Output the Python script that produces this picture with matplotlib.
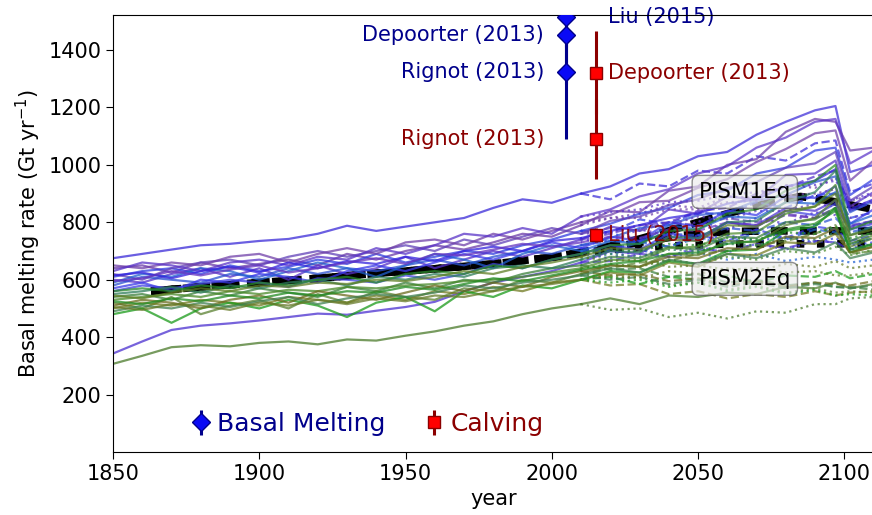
import matplotlib
matplotlib.use("Agg")
import matplotlib.pyplot as plt
from matplotlib.legend_handler import HandlerErrorbar

# ---------------------------------------------------------------------------
# Ensemble members: historical runs (1850-2010) and scenario branches (2010-2110)
# ---------------------------------------------------------------------------
hist_years = [1850, 1860, 1870, 1880, 1890, 1900, 1910, 1920, 1930, 1940,
              1950, 1960, 1970, 1980, 1990, 2000, 2010]
fut_years = [2010, 2020, 2030, 2040, 2050, 2060, 2070, 2080, 2090, 2097, 2102, 2110]

# PISM1Eq-forced members (blue / purple)
pism1_hist = [
    [675, 690, 705, 720, 725, 735, 742, 760, 788, 770, 785, 800, 815, 850, 880, 868, 900],
    [343, 385, 425, 440, 448, 458, 470, 482, 478, 492, 505, 523, 560, 590, 610, 630, 660],
    [640, 650, 625, 660, 640, 655, 670, 650, 690, 670, 700, 720, 705, 730, 760, 750, 790],
    [610, 630, 640, 620, 650, 630, 645, 670, 655, 690, 660, 680, 700, 690, 720, 740, 770],
    [600, 590, 620, 640, 610, 640, 600, 650, 620, 640, 680, 640, 670, 700, 680, 710, 740],
    [580, 610, 600, 590, 620, 610, 640, 620, 640, 630, 650, 670, 650, 680, 700, 690, 720],
    [620, 600, 640, 660, 670, 650, 680, 700, 680, 700, 720, 700, 740, 720, 750, 780, 760],
    [570, 590, 560, 600, 590, 620, 610, 590, 630, 650, 630, 660, 690, 670, 700, 730, 710],
    [650, 640, 660, 650, 680, 690, 660, 690, 710, 690, 730, 740, 720, 760, 740, 770, 800],
    [590, 620, 610, 640, 630, 600, 630, 660, 640, 610, 650, 690, 670, 640, 690, 720, 700],
    [630, 660, 650, 630, 660, 670, 650, 680, 670, 710, 690, 720, 760, 750, 780, 760, 820],
    [560, 580, 570, 585, 600, 590, 575, 605, 600, 590, 615, 600, 620, 655, 640, 670, 690],
    [615, 625, 605, 630, 645, 625, 660, 640, 665, 655, 680, 665, 700, 715, 700, 735, 745],
    [595, 605, 630, 615, 635, 650, 625, 640, 660, 675, 655, 690, 685, 705, 725, 715, 730],
]
pism1_colors = ["#3a2ad8", "#4a2fd0", "#6a3aa8", "#2f3ce0", "#5530c8", "#2a50d0",
                "#6040b8", "#3838e8", "#7040a8", "#2060d0", "#5a34c8", "#4040e0",
                "#3322dd", "#6535c0"]

# scenario branches: (member index, linestyle, values)
pism1_future = [
    (0, "-",  [900, 925, 970, 985, 1030, 1045, 1105, 1150, 1190, 1205, 975, 1000]),
    (0, "--", [900, 880, 935, 925, 980, 970, 1030, 1015, 1075, 1085, 905, 935]),
    (2, "-",  [790, 840, 835, 910, 925, 1000, 1020, 1115, 1160, 1150, 1050, 1060]),
    (2, ":",  [790, 815, 830, 860, 850, 890, 885, 930, 920, 955, 875, 895]),
    (3, "-",  [770, 795, 830, 850, 895, 910, 970, 990, 1050, 1060, 895, 950]),
    (3, "--", [770, 765, 810, 795, 835, 825, 870, 850, 895, 900, 815, 835]),
    (3, ":",  [770, 760, 745, 760, 740, 755, 735, 750, 730, 745, 720, 730]),
    (4, "-",  [740, 785, 770, 845, 830, 890, 880, 965, 970, 1015, 855, 905]),
    (4, ":",  [740, 735, 775, 755, 805, 775, 815, 795, 835, 825, 785, 805]),
    (4, "--", [740, 760, 790, 800, 840, 850, 900, 920, 960, 980, 840, 870]),
    (5, "-",  [720, 745, 780, 790, 825, 835, 875, 895, 940, 960, 835, 875]),
    (5, "--", [720, 735, 735, 760, 755, 780, 770, 800, 790, 815, 765, 785]),
    (6, "-",  [760, 805, 820, 860, 880, 920, 940, 990, 1005, 1045, 875, 925]),
    (6, ":",  [760, 765, 790, 790, 820, 810, 840, 840, 865, 855, 815, 835]),
    (6, "--", [760, 780, 770, 800, 790, 815, 800, 830, 815, 840, 790, 805]),
    (7, "-",  [710, 750, 735, 800, 785, 840, 825, 890, 885, 925, 795, 845]),
    (7, "--", [710, 705, 735, 715, 755, 735, 775, 745, 785, 775, 735, 755]),
    (8, "-",  [800, 825, 870, 875, 920, 950, 1010, 1055, 1110, 1120, 945, 1015]),
    (8, ":",  [800, 815, 815, 845, 845, 870, 875, 895, 900, 915, 855, 875]),
    (9, "-",  [700, 735, 725, 790, 775, 820, 815, 870, 865, 905, 795, 825]),
    (9, "--", [700, 700, 730, 715, 745, 725, 765, 740, 775, 765, 725, 745]),
    (9, ":",  [700, 690, 705, 680, 695, 670, 690, 665, 680, 670, 660, 670]),
    (10, "-", [820, 845, 890, 915, 970, 995, 1060, 1095, 1150, 1160, 1005, 1050]),
    (10, ":", [820, 835, 845, 870, 875, 895, 905, 925, 930, 945, 875, 905]),
    (11, "-", [690, 720, 705, 760, 745, 800, 785, 840, 825, 865, 775, 795]),
    (11, ":", [690, 675, 705, 680, 715, 695, 725, 705, 735, 730, 710, 725]),
    (1, "-",  [660, 700, 690, 750, 735, 800, 790, 850, 840, 875, 785, 805]),
    (1, "--", [660, 665, 690, 680, 705, 700, 725, 710, 735, 730, 705, 720]),
    (12, "-", [745, 770, 790, 815, 830, 865, 880, 925, 945, 985, 845, 880]),
    (13, "--", [730, 750, 745, 775, 770, 800, 790, 825, 815, 850, 780, 800]),
]

# PISM2Eq-forced members (green / olive)
pism2_hist = [
    [307, 335, 365, 372, 368, 380, 385, 375, 392, 388, 405, 420, 440, 455, 480, 500, 515],
    [540, 550, 530, 560, 545, 570, 555, 540, 575, 560, 590, 570, 600, 590, 620, 640, 650],
    [520, 500, 540, 480, 510, 530, 500, 550, 520, 560, 540, 530, 570, 560, 600, 590, 620],
    [500, 520, 510, 530, 520, 510, 540, 530, 520, 545, 530, 560, 550, 575, 560, 590, 600],
    [550, 560, 575, 555, 580, 570, 590, 600, 580, 610, 600, 620, 610, 640, 650, 640, 670],
    [480, 500, 450, 500, 520, 500, 530, 510, 470, 520, 540, 490, 560, 540, 580, 570, 600],
    [530, 540, 550, 540, 560, 550, 565, 560, 575, 570, 580, 585, 595, 600, 610, 625, 640],
    [510, 530, 520, 500, 530, 545, 520, 560, 545, 530, 555, 580, 560, 590, 575, 610, 630],
    [560, 570, 560, 580, 570, 590, 580, 600, 610, 590, 620, 630, 620, 650, 640, 670, 690],
    [490, 510, 500, 520, 505, 525, 540, 515, 535, 550, 540, 555, 580, 570, 590, 600, 615],
    [545, 535, 555, 570, 560, 580, 575, 590, 585, 600, 595, 610, 630, 620, 645, 660, 680],
    [525, 515, 535, 525, 545, 535, 555, 545, 560, 555, 575, 565, 585, 605, 595, 615, 635],
    [505, 495, 515, 510, 495, 520, 510, 530, 515, 535, 525, 545, 540, 560, 575, 585, 600],
]
pism2_colors = ["#4a7a2a", "#3a7f3a", "#5a8030", "#707a20", "#2e7d5a", "#1a9a1a",
                "#4a8a2a", "#6b6b1e", "#2a8a2a", "#3f7f4f", "#5f7f25", "#228b22",
                "#667a28"]

pism2_future = [
    (0, "-",  [515, 535, 515, 545, 540, 555, 550, 575, 570, 590, 570, 585]),
    (0, ":",  [515, 495, 500, 470, 485, 465, 490, 485, 515, 515, 535, 540]),
    (1, "-",  [650, 680, 675, 715, 705, 750, 745, 800, 810, 850, 735, 765]),
    (1, "--", [650, 635, 640, 610, 620, 590, 600, 580, 590, 575, 575, 565]),
    (2, "-",  [620, 650, 645, 690, 685, 735, 730, 790, 815, 880, 715, 745]),
    (2, ":",  [620, 605, 610, 580, 590, 565, 580, 555, 570, 555, 560, 555]),
    (2, "--", [620, 640, 660, 665, 690, 700, 720, 735, 760, 790, 690, 700]),
    (3, "-",  [600, 625, 615, 660, 645, 690, 685, 730, 725, 760, 695, 715]),
    (3, "--", [600, 580, 585, 550, 560, 535, 550, 540, 560, 545, 555, 560]),
    (4, "-",  [670, 700, 695, 750, 745, 800, 805, 870, 905, 980, 755, 785]),
    (4, ":",  [670, 690, 680, 705, 700, 725, 720, 745, 740, 765, 725, 745]),
    (5, "-",  [600, 630, 625, 665, 655, 700, 705, 770, 785, 850, 695, 725]),
    (5, "--", [600, 610, 585, 610, 600, 615, 590, 615, 610, 630, 605, 620]),
    (5, ":",  [600, 590, 600, 575, 590, 560, 575, 550, 565, 545, 550, 545]),
    (6, "-",  [640, 670, 665, 710, 715, 760, 765, 830, 855, 930, 725, 755]),
    (6, ":",  [640, 655, 645, 670, 655, 680, 670, 700, 690, 715, 685, 705]),
    (7, "-",  [630, 650, 645, 680, 675, 710, 705, 750, 745, 780, 695, 715]),
    (7, "--", [630, 615, 620, 595, 605, 580, 595, 575, 590, 585, 580, 595]),
    (8, "-",  [690, 720, 725, 770, 775, 830, 845, 910, 945, 1000, 775, 805]),
    (8, ":",  [690, 705, 700, 725, 720, 745, 740, 765, 760, 785, 745, 765]),
    (9, "-",  [615, 640, 625, 670, 655, 690, 675, 710, 695, 730, 675, 695]),
    (9, "--", [615, 600, 610, 585, 600, 575, 590, 570, 585, 575, 570, 580]),
    (10, "-", [680, 710, 705, 740, 735, 790, 785, 840, 855, 900, 755, 775]),
    (10, ":", [680, 665, 670, 645, 650, 635, 640, 625, 630, 615, 615, 625]),
    (11, "-", [635, 655, 665, 690, 695, 725, 735, 775, 795, 840, 705, 725]),
    (12, ":", [600, 615, 605, 630, 620, 640, 630, 655, 645, 665, 640, 650]),
]

# Ensemble means
mean_years = [1863, 1880, 1900, 1920, 1940, 1960, 1980, 2000, 2015, 2030,
              2045, 2060, 2075, 2085, 2095, 2110]
pism1_mean = [560, 575, 590, 605, 622, 638, 655, 678, 705, 742, 785, 830, 870, 890, 875, 845]
mid_mean = [560, 575, 590, 605, 622, 638, 655, 678, 702, 730, 755, 768, 770, 770, 770, 770]
pism2_mean = [560, 575, 590, 605, 622, 638, 655, 678, 700, 712, 720, 724, 725, 725, 725, 726]

# Observational estimates (Gt/yr)
melt_year = 2005
calv_year = 2015
melt_refs = ["Rignot (2013)", "Depoorter (2013)", "Liu (2015)"]
melt_vals = [1325, 1454, 1516]
melt_errs = [235, 174, 106]
calv_refs = ["Rignot (2013)", "Depoorter (2013)", "Liu (2015)"]
calv_vals = [1089, 1321, 755]
calv_errs = [139, 144, 24]

# ---------------------------------------------------------------------------
fig = plt.figure(figsize=(8.72, 5.15), dpi=100)
ax = fig.add_axes([113 / 872, 63 / 515, 760.5 / 872, 437 / 515])

# thick black ensemble means (beneath the members)
ax.plot(mean_years, pism1_mean, color="black", lw=5.5, ls=(0, (3.0, 1.2)), zorder=1.5)
ax.plot(mean_years, mid_mean, color="black", lw=5.5, ls=(2.0, (2.2, 1.6)), zorder=1.5)
ax.plot(mean_years, pism2_mean, color="black", lw=5.5, ls=":", zorder=1.5)

for vals, col in zip(pism1_hist, pism1_colors):
    ax.plot(hist_years, vals, color=col, lw=1.6, alpha=0.75, zorder=2)
for idx, ls, vals in pism1_future:
    ax.plot(fut_years, vals, color=pism1_colors[idx], lw=1.6, ls=ls, alpha=0.72, zorder=2)

for vals, col in zip(pism2_hist, pism2_colors):
    ax.plot(hist_years, vals, color=col, lw=1.6, alpha=0.75, zorder=2)
for idx, ls, vals in pism2_future:
    ax.plot(fut_years, vals, color=pism2_colors[idx], lw=1.6, ls=ls, alpha=0.72, zorder=2)

# observations
melt_handle = None
for ref, v, e in zip(melt_refs, melt_vals, melt_errs):
    melt_handle = ax.errorbar([melt_year], [v], yerr=[e], fmt="D", color="darkblue",
                              mfc="#0a0af5", mec="darkblue", ms=9, elinewidth=2.2,
                              capsize=0, zorder=6)
calv_handle = None
for ref, v, e in zip(calv_refs, calv_vals, calv_errs):
    calv_handle = ax.errorbar([calv_year], [v], yerr=[e], fmt="s", color="darkred",
                              mfc="#ff0000", mec="darkred", ms=9, elinewidth=2.2,
                              capsize=0, zorder=6)

lab_kw = dict(fontsize=15, va="center", textcoords="offset points", zorder=1)
ax.annotate(melt_refs[0], (melt_year, melt_vals[0]), xytext=(-16, 0), ha="right",
            color="darkblue", **lab_kw)
ax.annotate(melt_refs[1], (melt_year, melt_vals[1]), xytext=(-16, 0), ha="right",
            color="darkblue", **lab_kw)
ax.annotate(melt_refs[2], (melt_year, melt_vals[2]), xytext=(30, 0), ha="left",
            color="darkblue", **lab_kw)
ax.annotate(calv_refs[0], (calv_year, calv_vals[0]), xytext=(-37, 0), ha="right",
            color="darkred", **lab_kw)
ax.annotate(calv_refs[1], (calv_year, calv_vals[1]), xytext=(9, 0), ha="left",
            color="darkred", **lab_kw)
# this one sits inside the ensemble spread
ax.annotate(calv_refs[2], (calv_year, calv_vals[2]), xytext=(9, 0), ha="left",
            color="darkred", fontsize=15, va="center", textcoords="offset points",
            alpha=0.9, zorder=2.5)

# scenario labels
box = dict(boxstyle="round,pad=0.3", fc="#ececec", ec="#555555", alpha=0.65)
ax.text(2066, 906, "PISM1Eq", fontsize=15.5, ha="center", va="center", bbox=box, zorder=7)
ax.text(2066, 603, "PISM2Eq", fontsize=15.5, ha="center", va="center", bbox=box, zorder=7)

leg = ax.legend([melt_handle, calv_handle], ["Basal Melting", "Calving"],
                loc="center left", bbox_to_anchor=(0.104, 0.064), ncol=2,
                frameon=False, fontsize=18, handlelength=0.7, handletextpad=0.3,
                columnspacing=1.6, borderpad=0, borderaxespad=0, numpoints=1,
                labelcolor=["darkblue", "darkred"],
                handler_map={type(melt_handle): HandlerErrorbar(xerr_size=0, yerr_size=0.5)})

ax.set_xlim(1850, 2110)
ax.set_ylim(0, 1522)
ax.set_xticks([1850, 1900, 1950, 2000, 2050, 2100])
ax.set_yticks([200, 400, 600, 800, 1000, 1200, 1400])
ax.tick_params(labelsize=15, length=5)
ax.spines["right"].set_visible(False)
ax.set_xlabel("year", fontsize=15)
ax.set_ylabel("Basal melting rate (Gt yr$^{-1}$)", fontsize=15)

fig.savefig("out.png", dpi=100)
